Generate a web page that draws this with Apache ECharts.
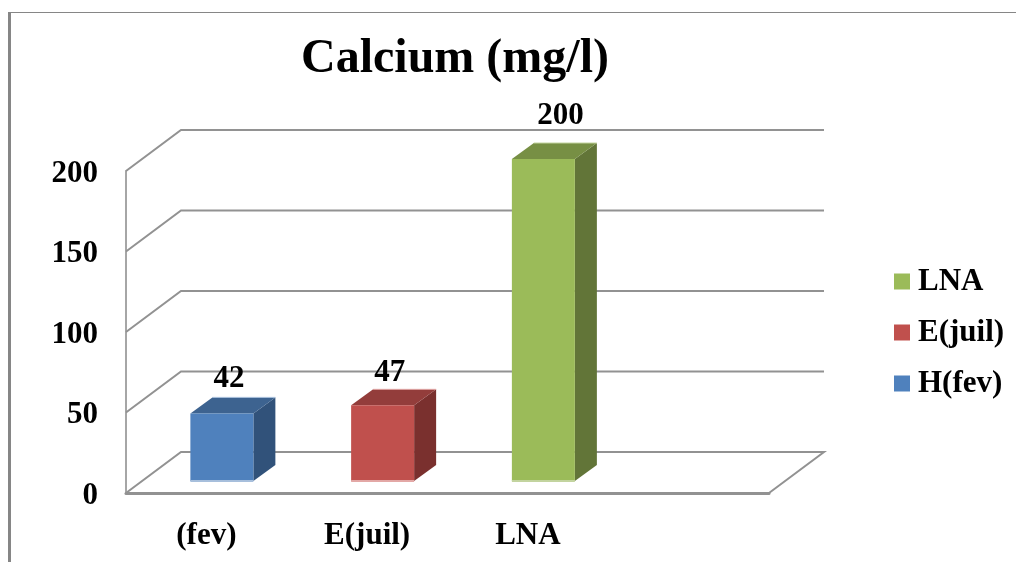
<!DOCTYPE html>
<html>
<head>
<meta charset="utf-8">
<style>html,body{margin:0;padding:0;background:#fff}#c{width:1016px;height:562px}</style>
<script src="https://cdn.jsdelivr.net/npm/echarts@6/dist/echarts.min.js"></script>
</head>
<body>
<div id="c"></div>
<script>
var titleText = 'Calcium (mg/l)';
var categories = ['(fev)', 'E(juil)', 'LNA', ''];
var seriesNames = ['H(fev)', 'E(juil)', 'LNA'];
var legendOrder = ['LNA', 'E(juil)', 'H(fev)'];
var hFev = [[0, 42]];
var eJuil = [[1, 47]];
var lna = [[2, 200]];
var yTicks = [0, 50, 100, 150, 200];

var FONT = '"Liberation Serif", serif';
var WALL_DX = 55, WALL_DY = -41;
var BAR_W = 63, BAR_DX = 22, BAR_DY = -16, BAR_OFF_X = -16, BAR_OFF_Y = -12;

function wall(params, api) {
  var cs = params.coordSys;
  var v = api.value(0);
  var y = api.coord([0, v])[1];
  var x0 = cs.x, x1 = cs.x + cs.width;
  var pts = [[x0, y], [x0 + WALL_DX, y + WALL_DY], [x1 + WALL_DX, y + WALL_DY]];
  if (v === 0) pts.push([x1, y]);
  return {
    type: 'polyline', shape: {points: pts},
    style: {stroke: '#929292', lineWidth: 2, fill: null}
  };
}

function bar3d(colors) {
  return function (params, api) {
    var cat = api.value(0), val = api.value(1);
    var b = api.coord([cat, 0]), t = api.coord([cat, val]);
    var l = b[0] + BAR_OFF_X, r = l + BAR_W;
    var by = b[1] + BAR_OFF_Y, ty = t[1] + BAR_OFF_Y;
    return {
      type: 'group',
      children: [
        {type: 'polygon', shape: {points: [[r, ty], [r + BAR_DX, ty + BAR_DY], [r + BAR_DX, by + BAR_DY], [r, by]]}, style: {fill: colors.side}},
        {type: 'polygon', shape: {points: [[l, ty], [l + BAR_DX, ty + BAR_DY], [r + BAR_DX, ty + BAR_DY], [r, ty]]}, style: {fill: colors.top}},
        {type: 'line', shape: {x1: l + BAR_DX, y1: ty + BAR_DY, x2: r + BAR_DX, y2: ty + BAR_DY}, style: {stroke: colors.edge, lineWidth: 1}},
        {type: 'rect', shape: {x: l, y: ty, width: BAR_W, height: by - ty}, style: {fill: colors.front}},
        {type: 'line', shape: {x1: l, y1: by, x2: r, y2: by}, style: {stroke: colors.edge, lineWidth: 2}},
        {type: 'text', x: l + BAR_W / 2 + 7 + colors.labelDx, y: ty + BAR_DY - 21 + colors.labelDy,
         style: {text: String(val), fill: '#000', font: 'bold 31px ' + FONT, align: 'center', verticalAlign: 'middle'}}
      ]
    };
  };
}

var palette = {
  'H(fev)': {front: '#4f81bd', top: '#3d6390', side: '#31527a', edge: '#a7bfdc', labelDx: 0, labelDy: 3},
  'E(juil)': {front: '#c0504d', top: '#933d3b', side: '#7a302e', edge: '#e3a8a6', labelDx: 0, labelDy: 5},
  'LNA': {front: '#9bbb59', top: '#778f44', side: '#627538', edge: '#c3d49f', labelDx: 10, labelDy: -6}
};
var seriesData = {'H(fev)': hFev, 'E(juil)': eJuil, 'LNA': lna};

var series = [{
  type: 'custom', name: 'walls', silent: true, z: 1,
  renderItem: wall, data: yTicks.map(function (v) { return [v]; }),
  encode: {y: 0}
}].concat(seriesNames.map(function (n) {
  return {
    type: 'custom', name: n, z: 3,
    itemStyle: {color: palette[n].front},
    renderItem: bar3d(palette[n]),
    encode: {x: 0, y: 1},
    data: seriesData[n]
  };
}));

var chart = echarts.init(document.getElementById('c'), null, {renderer: 'canvas'});
chart.setOption({
  animation: false,
  backgroundColor: '#fff',
  title: {
    text: titleText, left: 450, top: 31, textAlign: 'center',
    textStyle: {fontFamily: FONT, fontWeight: 'bold', fontSize: 48, color: '#000'}
  },
  legend: {
    data: legendOrder, orient: 'vertical', left: 894, top: 266, padding: 0,
    itemWidth: 16, itemHeight: 16, itemGap: 20, icon: 'rect',
    textStyle: {fontFamily: FONT, fontWeight: 'bold', fontSize: 31, color: '#000', padding: [0, 0, 0, 3]},
    selectedMode: false
  },
  grid: {left: 126, right: 247, top: 171, bottom: 69},
  xAxis: {
    type: 'category', data: categories,
    axisTick: {show: false},
    axisLine: {lineStyle: {color: '#929292', width: 3}},
    axisLabel: {interval: 0, margin: 27, color: '#000', fontFamily: FONT, fontWeight: 'bold', fontSize: 31}
  },
  yAxis: {
    type: 'value', min: 0, max: 200, interval: 50,
    splitLine: {show: false},
    axisTick: {show: false},
    axisLine: {show: true, lineStyle: {color: '#a6a6a6', width: 2}},
    axisLabel: {
      margin: 28, formatter: '{a|{value}}',
      rich: {a: {padding: [5, 0, 0, 0], color: '#000', fontFamily: FONT, fontWeight: 'bold', fontSize: 31}}
    }
  },
  graphic: [
    {type: 'rect', silent: true, shape: {x: 8, y: 12, width: 3, height: 550}, style: {fill: '#868686'}},
    {type: 'rect', silent: true, shape: {x: 8, y: 12, width: 1008, height: 1}, style: {fill: '#868686'}}
  ],
  series: series
});
</script>
</body>
</html>
